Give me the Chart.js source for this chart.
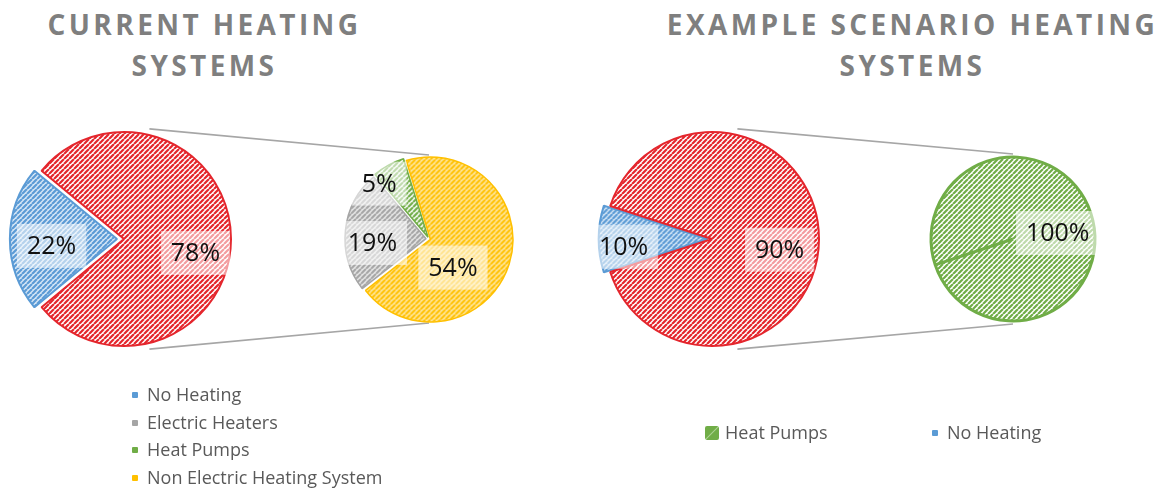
<!DOCTYPE html>
<html>
<head>
<meta charset="utf-8">
<script src="https://cdn.jsdelivr.net/npm/chart.js@4.4.1/dist/chart.umd.min.js"></script>
<style>
  body { margin: 0; background: #fff; width: 1159px; height: 488px; overflow: hidden; position: relative; font-family: "Open Sans", sans-serif; }
  canvas { position: absolute; }
  .title { position: absolute; color: #7f7f7f; font-weight: bold; font-size: 28px; line-height: 41px; letter-spacing: 3.4px; text-align: center; white-space: nowrap; }
  .legend { position: absolute; color: #595959; font-size: 18px; }
  .legend .item { position: absolute; white-space: nowrap; line-height: 24px; }
  .legend .box { position: absolute; width: 6px; height: 6px; border-radius: 1px; }
</style>
</head>
<body>

<div class="title" style="left:0; top:4px; width:403px; padding-left:3px;">CURRENT HEATING<br>SYSTEMS</div>
<div class="title" style="left:618px; top:4px; width:583px; padding-left:3px;">EXAMPLE SCENARIO HEATING<br>SYSTEMS</div>

<canvas id="lines" width="1159" height="488" style="left:0; top:0;"></canvas>
<canvas id="currentMain" width="280" height="280" style="left:-16px; top:99px;"></canvas>
<canvas id="currentSplit" width="220" height="220" style="left:319px; top:129px;"></canvas>
<canvas id="scenarioMain" width="280" height="280" style="left:572px; top:99px;"></canvas>
<canvas id="scenarioSplit" width="220" height="220" style="left:903px; top:129px;"></canvas>

<div class="legend" id="currentLegend"></div>
<div class="legend" id="scenarioLegend"></div>

<script>
// Current heating systems: main pie, then the split of the "other" slice
const currentLabels = ['No Heating', 'Other'];
const currentValues = [22, 78];
const currentSplitLabels = ['Electric Heaters', 'Heat Pumps', 'Non Electric Heating System'];
const currentSplitValues = [19, 5, 54];

// Example scenario
const scenarioLabels = ['No Heating', 'Other'];
const scenarioValues = [10, 90];
const scenarioSplitLabels = ['Heat Pumps'];
const scenarioSplitValues = [100];

// Legend entries
const currentLegendItems = ['No Heating', 'Electric Heaters', 'Heat Pumps', 'Non Electric Heating System'];
const scenarioLegendItems = ['Heat Pumps', 'No Heating'];

// Colours: stripe, pattern background, solid
const palette = {
    'No Heating': ['#5b9bd5', '#d6e6f6', '#5b9bd5'],
    'Other': ['#e4262d', '#ffffff', '#e4262d'],
    'Electric Heaters': ['#a5a5a5', '#ebebeb', '#a5a5a5'],
    'Heat Pumps': ['#70ad47', '#ffffff', '#70ad47'],
    'Non Electric Heating System': ['#ffc000', '#ffecb3', '#ffc000']
};

// Diagonal stripe fill, like the Excel "wide upward diagonal" pattern
function hatch(fg, bg) {
    const size = 5;
    const c = document.createElement('canvas');
    c.width = c.height = size;
    const x = c.getContext('2d');
    x.fillStyle = bg;
    x.fillRect(0, 0, size, size);
    x.strokeStyle = fg;
    x.lineWidth = 2.2;
    x.beginPath();
    for (const o of [-size, 0, size]) {
        x.moveTo(o, size);
        x.lineTo(o + size, 0);
    }
    x.stroke();
    return x.createPattern(c, 'repeat');
}

// Percentage labels on a washed-out white box
const sliceLabels = {
    id: 'sliceLabels',
    afterDatasetsDraw(chart, args, opts) {
        const ctx = chart.ctx;
        const data = chart.data.datasets[0].data;
        ctx.save();
        ctx.font = '25px "Open Sans"';
        ctx.textAlign = 'center';
        ctx.textBaseline = 'middle';
        chart.getDatasetMeta(0).data.forEach((arc, i) => {
            const [deg, frac] = opts.positions[i];
            const a = deg * Math.PI / 180;
            const x = arc.x + Math.cos(a) * arc.outerRadius * frac;
            const y = arc.y + Math.sin(a) * arc.outerRadius * frac;
            const text = data[i] + '%';
            const w = ctx.measureText(text).width + 20;
            ctx.fillStyle = 'rgba(255, 255, 255, 0.55)';
            ctx.fillRect(x - w / 2, y - 22, w, 44);
            ctx.fillStyle = '#111';
            ctx.fillText(text, x, y + 1);
        });
        ctx.restore();
    }
};

function makePie(id, labels, values, opts) {
    return new Chart(document.getElementById(id), {
        type: 'pie',
        data: {
            labels: labels,
            datasets: [{
                data: values,
                backgroundColor: labels.map(l => hatch(palette[l][0], palette[l][1])),
                borderColor: labels.map(l => palette[l][0]),
                borderWidth: opts.borderWidth,
                offset: opts.offset
            }]
        },
        options: {
            responsive: false,
            animation: false,
            radius: opts.radius,
            rotation: opts.rotation,
            layout: { padding: 0 },
            events: [],
            plugins: {
                legend: { display: false },
                tooltip: { enabled: false },
                sliceLabels: { positions: opts.labelPos }
            }
        },
        plugins: [sliceLabels]
    });
}

const currentMain = makePie('currentMain', currentLabels, currentValues, {
    radius: 107, rotation: 230.4, offset: [28, 0], borderWidth: 2,
    labelPos: [[174.5, 0.68], [11, 0.68]]
});
const currentSplit = makePie('currentSplit', currentSplitLabels, currentSplitValues, {
    radius: 81, rotation: 232, offset: [12, 8, 6], borderWidth: 1.5,
    labelPos: [[176, 0.70], [228, 0.92], [50, 0.46]]
});
const scenarioMain = makePie('scenarioMain', scenarioLabels, scenarioValues, {
    radius: 107, rotation: 252, offset: [18, 0], borderWidth: 2,
    labelPos: [[175, 0.83], [9, 0.64]]
});
const scenarioSplit = makePie('scenarioSplit', scenarioSplitLabels, scenarioSplitValues, {
    radius: 82, rotation: 251.6, offset: 0, borderWidth: 3,
    labelPos: [[-7.6, 0.55]]
});

// Connector lines from the main pie to the top and bottom of its split pie
function connect(ctx, main, split) {
    const m = main.getDatasetMeta(0).data[1];
    const s = split.getDatasetMeta(0).data[0];
    const mx = main.canvas.offsetLeft + m.x, my = main.canvas.offsetTop + m.y;
    const sx = split.canvas.offsetLeft + s.x, sy = split.canvas.offsetTop + s.y;
    const r = m.outerRadius + 6;
    [-1, 1].forEach(dir => {
        const a = dir * 77 * Math.PI / 180;
        ctx.beginPath();
        ctx.moveTo(mx + Math.cos(a) * r, my + Math.sin(a) * r);
        ctx.lineTo(sx, sy + dir * (s.outerRadius + 3));
        ctx.stroke();
    });
}
const lctx = document.getElementById('lines').getContext('2d');
lctx.strokeStyle = '#a6a6a6';
lctx.lineWidth = 1.6;
connect(lctx, currentMain, currentSplit);
connect(lctx, scenarioMain, scenarioSplit);

// Legends
function legendItem(parent, text, left, top, boxStyle) {
    const item = document.createElement('div');
    item.className = 'item';
    item.style.left = left + 'px';
    item.style.top = top + 'px';
    item.textContent = text;
    parent.appendChild(item);
    const box = document.createElement('div');
    box.className = 'box';
    Object.assign(box.style, boxStyle);
    parent.appendChild(box);
}

const curLeg = document.getElementById('currentLegend');
currentLegendItems.forEach((name, i) => {
    const cy = 395 + i * 27.7;
    legendItem(curLeg, name, 147, cy - 13, {
        left: '132px', top: (cy - 3) + 'px', background: palette[name][2]
    });
});

const scnLeg = document.getElementById('scenarioLegend');
legendItem(scnLeg, scenarioLegendItems[0], 725, 420, {
    left: '705px', top: '426px', width: '14px', height: '14px', borderRadius: '2px',
    background: 'linear-gradient(135deg, #70ad47 45%, #a9d08e 50%, #70ad47 55%)'
});
legendItem(scnLeg, scenarioLegendItems[1], 947, 420, {
    left: '932px', top: '430px', background: palette['No Heating'][2]
});
</script>
</body>
</html>
